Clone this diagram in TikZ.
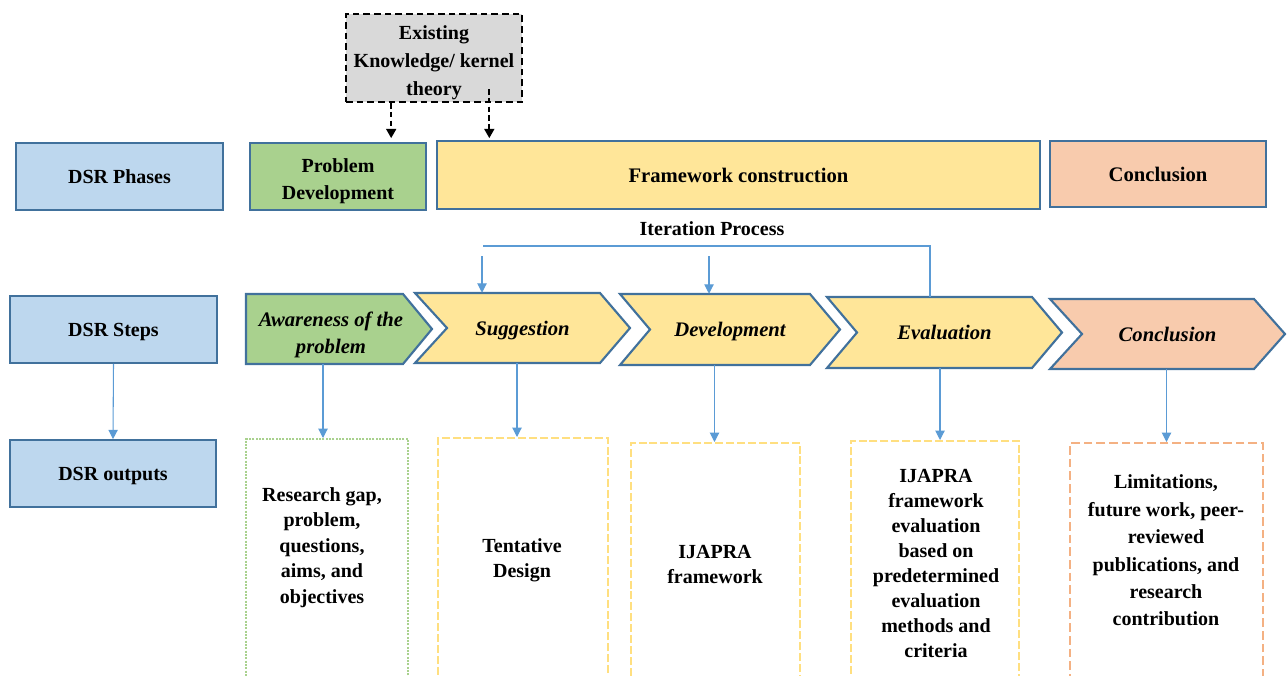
\documentclass[tikz,border=0pt]{standalone}
\usepackage{fontspec}
\setmainfont{Liberation Serif}
\usetikzlibrary{arrows.meta,calc}

\definecolor{dsrblue}{HTML}{BDD7EE}
\definecolor{edgeblue}{HTML}{41719C}
\definecolor{arrowblue}{HTML}{5B9BD5}
\definecolor{probgreen}{HTML}{A9D18E}
\definecolor{frameyellow}{HTML}{FFE699}
\definecolor{dashyellow}{HTML}{FFDF80}
\definecolor{concsalmon}{HTML}{F8CBAD}
\definecolor{concorange}{HTML}{F4B183}
\definecolor{kernelgray}{HTML}{D9D9D9}

\begin{document}
\begin{tikzpicture}[
  x=0.75pt, y=-0.75pt,
  sz/.style 2 args={minimum width=#1*0.75pt, minimum height=#2*0.75pt},
  txt/.style={font=\fontsize{15}{20}\selectfont\bfseries, align=center, inner sep=0pt},
  oneline/.style={text depth=0pt},
  phasebox/.style={draw=edgeblue, line width=1.3pt, inner sep=0pt, txt, oneline},
  chev/.style={draw=edgeblue, line width=1.6pt},
  chevlabel/.style={inner sep=0pt, oneline,
                    font=\fontsize{15.5}{20}\selectfont\bfseries\itshape},
  outbox/.style={line width=1.5pt, inner sep=0pt},
  bluearrow/.style={draw=arrowblue, line width=0.8pt, -{Triangle[width=7pt,length=7pt]}},
  blueline/.style={draw=arrowblue, line width=0.8pt},
  kernarrow/.style={draw=black, line width=1.5pt, dash pattern=on 4pt off 2.5pt,
                    -{Triangle[width=7.5pt,length=7pt]}},
]
\useasboundingbox (0,0) rectangle (1287,675);
\clip (0,0) rectangle (1287,675);

% ---------- kernel theory ----------
\node[sz={176}{88}, inner sep=0pt, fill=kernelgray, draw=black,
      line width=1.8pt, dash pattern=on 5pt off 3pt] (kernel) at (434,58) {};
\node[txt, font=\fontsize{15}{21}\selectfont\bfseries] (kernelt) at (434,62.5)
      {Existing\\Knowledge/ kernel\\theory};

% ---------- row labels ----------
\node[phasebox, fill=dsrblue, sz={207}{67}] (phases) at (119.5,176.5) {DSR Phases};
\node[phasebox, fill=dsrblue, sz={207}{67}] (steps) at (113.5,329.5) {DSR Steps};
\node[phasebox, fill=dsrblue, sz={206}{67}] (outputs) at (113,473.5) {DSR outputs};

% ---------- phases ----------
\node[phasebox, fill=probgreen, sz={176}{67}] (pdev) at (338,176.5) {};
\node[txt, font=\fontsize{15}{20.2}\selectfont\bfseries] (pdevt) at (338,181.5)
      {Problem\\Development};
\node[phasebox, fill=frameyellow, sz={603}{68},
      font=\fontsize{15.5}{20}\selectfont\bfseries] (fcons) at (738.5,175) {Framework construction};
\node[phasebox, fill=concsalmon, sz={216}{66},
      font=\fontsize{15.5}{20}\selectfont\bfseries] (pconc) at (1158,174) {Conclusion};

% kernel theory feeds the first two phases
\coordinate (k1) at ($(kernel.south west)!0.26!(kernel.south east)$);
\coordinate (k2) at ($(kernel.south west)!0.81!(kernel.south east)+(0,-14)$);
\draw[kernarrow, shorten >=3pt] (k1) -- (k1 |- pdev.north);
\draw[kernarrow, shorten >=1.5pt] (k2) -- (k2 |- fcons.north);

% ---------- steps (chevrons) ----------
\draw[chev, fill=probgreen]
  (246,294) -- (403,294) -- (432,329) -- (403,364) -- (246,364) -- cycle;
\draw[chev, fill=frameyellow]
  (415,293) -- (600,293) -- (630,328) -- (600,363) -- (415,363) -- (447,328) -- cycle;
\draw[chev, fill=frameyellow]
  (620,294) -- (810,294) -- (840,329.5) -- (810,365) -- (620,365) -- (650,329.5) -- cycle;
\draw[chev, fill=frameyellow]
  (827,297) -- (1032,297) -- (1062,332.5) -- (1032,368) -- (827,368) -- (857,332.5) -- cycle;
\draw[chev, fill=concsalmon]
  (1050,299) -- (1254,299) -- (1285,334) -- (1254,369) -- (1050,369) -- (1082,334) -- cycle;

\node[chevlabel, sz={170}{70}] (aware) at (331,329) {};
\node[txt, font=\fontsize{15.5}{20.2}\selectfont\bfseries\itshape] (awaret) at (331,334.5)
  {Awareness of the\\problem};
\node[chevlabel, sz={215}{70}] (sugg) at (522.5,328) {Suggestion};
\node[chevlabel, sz={220}{71}] (devel) at (730,329.5) {Development};
\node[chevlabel, sz={235}{71}] (evalu) at (944.5,332.5) {Evaluation};
\node[chevlabel, sz={235}{70}] (sconc) at (1167.5,334) {Conclusion};

% ---------- iteration loop ----------
\node[txt] (iter) at (712,229) {Iteration Process};
\coordinate (itR) at (930,246);
\coordinate (itL) at (483,246);
\draw[blueline] (evalu.north -| itR) -- (itR) -- (itL);
\coordinate (ia) at (482,256);
\coordinate (ib) at (709,256);
\draw[bluearrow] (ia) -- (ia |- sugg.north);
\draw[bluearrow] (ib) -- (ib |- devel.north);

% ---------- outputs ----------
\node[outbox, draw=probgreen, dash pattern=on 1.5pt off 1pt, sz={162}{261}] (o1) at (327,569.5) {};
\node[outbox, draw=dashyellow, dash pattern=on 6pt off 2.2pt, sz={170}{262}] (o2) at (523,569) {};
\node[outbox, draw=dashyellow, dash pattern=on 6pt off 2.2pt, sz={169}{257}] (o3) at (715.5,571.5) {};
\node[outbox, draw=dashyellow, dash pattern=on 6pt off 2.2pt, sz={168}{259}] (o4) at (935,570.5) {};
\node[outbox, draw=concorange, dash pattern=on 6.5pt off 3pt, sz={193}{257}] (o5) at (1166.5,571.5) {};

\node[txt, font=\fontsize{15}{19.2}\selectfont\bfseries] (o1t) at (322,547.5)
  {Research gap,\\problem,\\questions,\\aims, and\\objectives};
\node[txt, font=\fontsize{15}{18.5}\selectfont\bfseries] (o2t) at (522,560.5) {Tentative\\Design};
\node[txt, font=\fontsize{15}{18.5}\selectfont\bfseries] (o3t) at (715,564.5) {IJAPRA\\framework};
\node[txt, font=\fontsize{15}{18.7}\selectfont\bfseries] (o4t) at (936,563.5)
  {IJAPRA\\framework\\evaluation\\based on\\predetermined\\evaluation\\methods and\\criteria};
\node[txt, font=\fontsize{15}{20.6}\selectfont\bfseries] (o5t) at (1166,550.5)
  {Limitations,\\future work, peer-\\reviewed\\publications, and\\research\\contribution};

% steps lead to their outputs
\coordinate (e1) at ($(o1.north)+(-4,0)$);
\coordinate (e2) at ($(o2.north)+(-6,0)$);
\coordinate (e3) at ($(o3.north)+(-1,0)$);
\coordinate (e4) at ($(o4.north)+(5,0)$);
\coordinate (e5) at ($(o5.north)+(0,0)$);
\draw[bluearrow] (e1 |- aware.south) -- (e1);
\draw[bluearrow] (e2 |- sugg.south) -- (e2);
\draw[bluearrow] (e3 |- devel.south) -- (e3);
\draw[bluearrow] (e4 |- evalu.south) -- (e4);
\draw[bluearrow] (e5 |- sconc.south) -- (e5);
\draw[bluearrow] (steps.south) -- (outputs.north);

\end{tikzpicture}
\end{document}
